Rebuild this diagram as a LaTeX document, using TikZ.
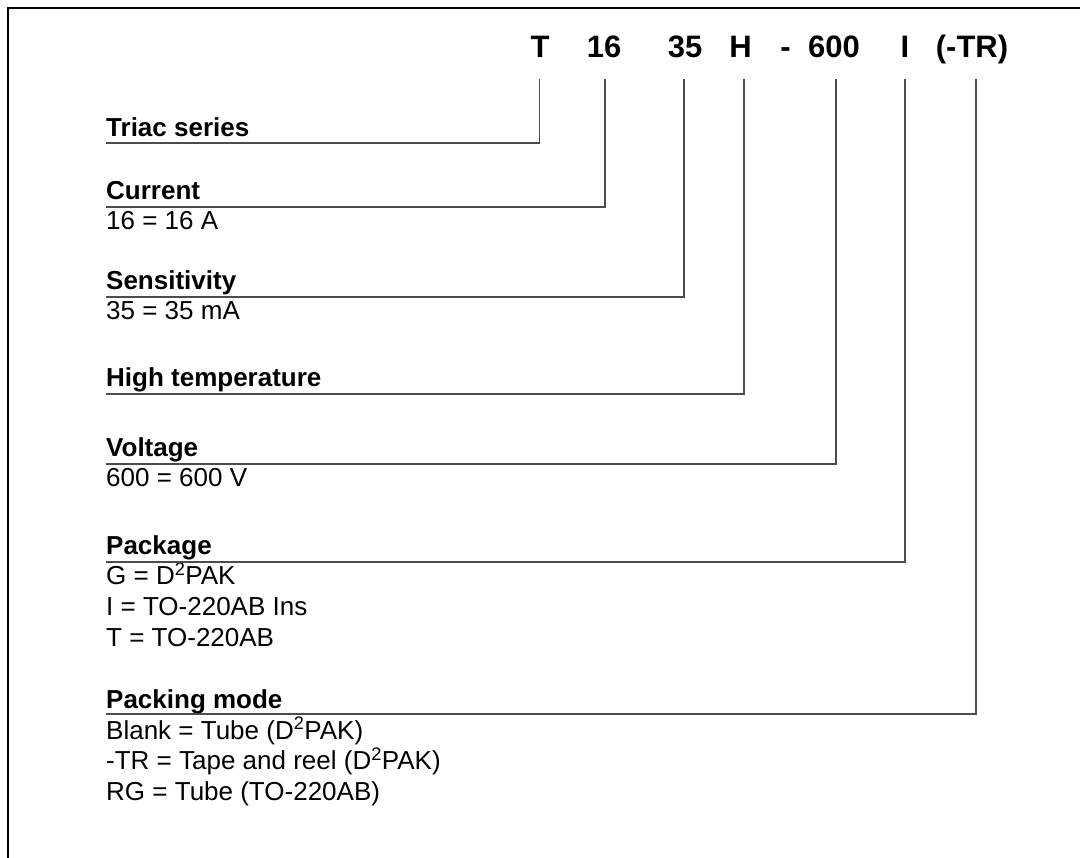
\documentclass[tikz,border=0pt]{standalone}
\usepackage{fontspec}
\setmainfont{Liberation Sans}
\begin{document}
\begin{tikzpicture}[x=1pt,y=-1pt,
  hdr/.style={font=\fontsize{31}{31}\selectfont\bfseries, anchor=base, inner sep=0pt},
  lbl/.style={font=\fontsize{26}{26}\selectfont\bfseries, anchor=base west, inner sep=0pt},
  sub/.style={font=\fontsize{26}{26}\selectfont, anchor=base west, inner sep=0pt},
  lead/.style={draw=black!70, line width=1.4pt},
  frame/.style={draw=black, line width=2.6pt, line join=miter}]
\useasboundingbox (0,0) rectangle (1080,858);
% frame
\coordinate (fb) at (8,860);
\coordinate (fc) at (8,8);
\coordinate (fr) at (1082,8);
\draw[frame] (fb) -- (fc) -- (fr);

% header code
\node[hdr] (hT)  at (540,57.7) {T};
\node[hdr] (h16) at (604,57.7) {16};
\node[hdr] (h35) at (685,57.7) {35};
\node[hdr] (hH)  at (740.5,57.7) {H};
\node[hdr] (hd)  at (785.5,57.7) {-};
\node[hdr] (h600) at (834,57.7) {600};
\node[hdr] (hI)  at (905,57.7) {I};
\node[hdr] (hTR) at (972,57.7) {(-TR)};

% tops of leader lines
\coordinate (t1) at (539.5,79);
\coordinate (t2) at (605,79);
\coordinate (t3) at (684,79);
\coordinate (t4) at (744,79);
\coordinate (t5) at (836,79);
\coordinate (t6) at (905,79);
\coordinate (t7) at (976,79);

% labels
\node[lbl] (l1) at (106,137) {Triac series};
\node[lbl] (l2) at (106,199.5) {Current};
\node[sub] (s2) at (106,229.5) {16 = 16 A};
\node[lbl] (l3) at (106,290) {Sensitivity};
\node[sub] (s3) at (106,319.5) {35 = 35 mA};
\node[lbl] (l4) at (106,387) {High temperature};
\node[lbl] (l5) at (106,457) {Voltage};
\node[sub] (s5) at (106,486.5) {600 = 600 V};
\node[lbl] (l6) at (106,555) {Package};
\node[sub] (s6a) at (106,585) {G = D\textsuperscript{2}PAK};
\node[sub] (s6b) at (106,615.5) {I = TO-220AB Ins};
\node[sub] (s6c) at (106,646) {T = TO-220AB};
\node[lbl] (l7) at (106,708) {Packing mode};
\node[sub] (s7a) at (106,739) {Blank = Tube (D\textsuperscript{2}PAK)};
\node[sub] (s7b) at (106,769.5) {-TR = Tape and reel (D\textsuperscript{2}PAK)};
\node[sub] (s7c) at (106,800) {RG = Tube (TO-220AB)};

% underline start points
\coordinate (u1) at (106,143);
\coordinate (u2) at (106,207);
\coordinate (u3) at (106,297);
\coordinate (u4) at (106,394);
\coordinate (u5) at (106,464);
\coordinate (u6) at (106,562);
\coordinate (u7) at (106,714);

\draw[lead] (u1) -| (t1);
\draw[lead] (u2) -| (t2);
\draw[lead] (u3) -| (t3);
\draw[lead] (u4) -| (t4);
\draw[lead] (u5) -| (t5);
\draw[lead] (u6) -| (t6);
\draw[lead] (u7) -| (t7);
\end{tikzpicture}
\end{document}
